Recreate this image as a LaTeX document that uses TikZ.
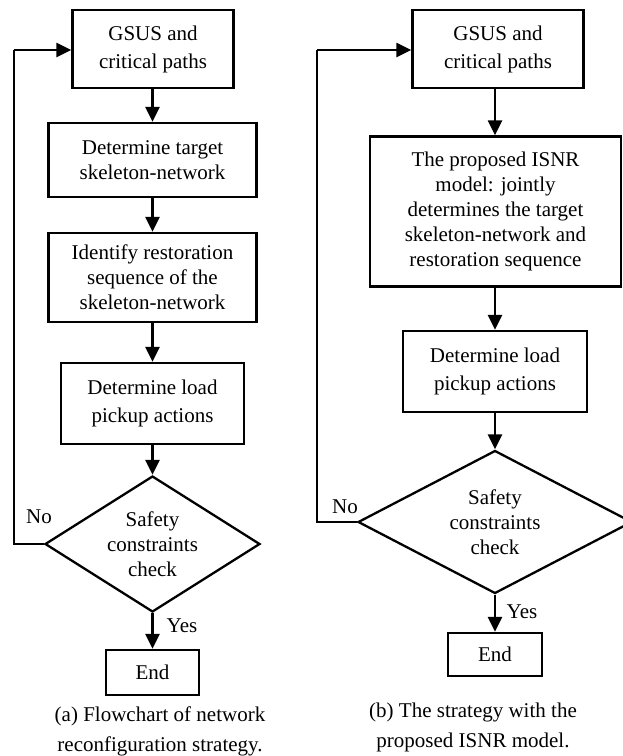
\documentclass[tikz,border=0pt]{standalone}
\usepackage{fontspec}
\setmainfont{Liberation Serif}
\usetikzlibrary{shapes.geometric,arrows.meta}
\begin{document}
\begin{tikzpicture}[x=1pt,y=-1pt,
  every node/.style={font=\fontsize{21}{25}\selectfont},
  box/.style={draw,line width=2.3pt,rectangle,align=center,inner sep=0pt},
  widebox/.style={box,font=\fontsize{21}{28}\selectfont},
  diam/.style={draw,line width=2.3pt,diamond,inner sep=0pt},
  flow/.style={line width=2.3pt,-{Triangle[length=15pt,width=14pt]}},
  loopline/.style={line width=2.3pt},
  caption/.style={align=center,font=\fontsize{21}{30}\selectfont},
  lbl/.style={inner sep=0pt}]
\useasboundingbox (0,0) rectangle (623,756);

% ---- (a) network reconfiguration strategy ----
\node[widebox,minimum width=161pt,minimum height=78pt] (a1) at (153,49) {GSUS and\\critical paths};
\node[box,minimum width=208pt,minimum height=74pt] (a2) at (152.5,160) {Determine target\\skeleton-network};
\node[box,minimum width=208pt,minimum height=89pt] (a3) at (152.5,277.5) {Identify restoration\\sequence of the\\skeleton-network};
\node[widebox,minimum width=183pt,minimum height=81pt] (a4) at (152.5,403.5) {Determine load\\pickup actions};
\node[diam,minimum width=215pt,minimum height=136pt] (ad) at (152.5,544) {};
\node[align=center,inner sep=0pt] (adt) at (ad.center) {Safety\\constraints\\check};
\node[box,minimum width=93pt,minimum height=45pt] (ae) at (152.5,672.5) {End};
\coordinate (aloop1) at (14,544);
\coordinate (aloop2) at (14,50);

\draw[flow] (a2.north |- a1.south) -- (a2.north);
\draw[flow] (a2.south) -- (a3.north);
\draw[flow] (a3.south) -- (a4.north);
\draw[flow] (a4.south) -- (ad.north);
\draw[flow] (ad.south) -- (ae.north);
\draw[loopline] (ad.west) -- (aloop1) -- (aloop2);
\draw[flow] (aloop2) -- (aloop2 -| a1.west);

\node[lbl] (ano) at (39,517) {No};
\node[lbl] (ayes) at (182,626) {Yes};
\node[caption] (acap) at (160,731) {(a) Flowchart of network\\reconfiguration strategy.};

% ---- (b) strategy with the ISNR model ----
\node[widebox,minimum width=171pt,minimum height=78pt] (b1) at (498,49) {GSUS and\\critical paths};
\node[box,minimum width=251pt,minimum height=150pt] (b2) at (495.5,211.5) {The proposed ISNR\\model: jointly\\determines the target\\skeleton-network and\\restoration sequence};
\node[widebox,minimum width=184pt,minimum height=81pt] (b3) at (495,371.5) {Determine load\\pickup actions};
\node[diam,minimum width=274pt,minimum height=143pt] (bd) at (495,522) {};
\node[align=center,inner sep=0pt] (bdt) at (bd.center) {Safety\\constraints\\check};
\node[box,minimum width=94pt,minimum height=43pt] (be) at (495,654.5) {End};
\coordinate (bloop1) at (317,522);
\coordinate (bloop2) at (317,50);

\draw[flow] (b3.north |- b1.south) -- (b3.north |- b2.north);
\draw[flow] (b3.north |- b2.south) -- (b3.north);
\draw[flow] (b3.south) -- (bd.north);
\draw[flow] (bd.south) -- (be.north);
\draw[loopline] (bd.west) -- (bloop1) -- (bloop2);
\draw[flow] (bloop2) -- (bloop2 -| b1.west);

\node[lbl] (bno) at (345,507) {No};
\node[lbl] (byes) at (522,612) {Yes};
\node[caption] (bcap) at (473,727) {(b) The strategy with the\\proposed ISNR model.};
\end{tikzpicture}
\end{document}
